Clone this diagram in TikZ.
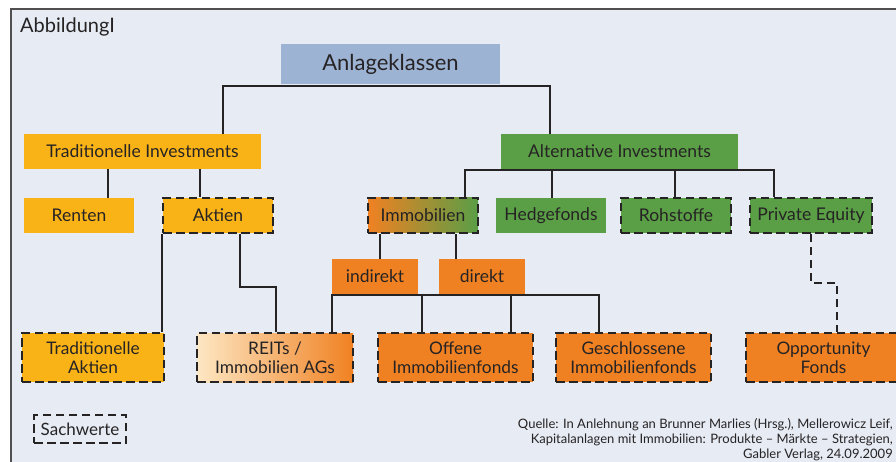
\documentclass[tikz,border=0pt]{standalone}
\usepackage{fontspec}
\setmainfont{Lato}
\usetikzlibrary{calc}
\definecolor{bgc}{HTML}{E7EBF4}
\definecolor{ink}{HTML}{262324}
\definecolor{blueb}{HTML}{9DB3D4}
\definecolor{yel}{HTML}{F9B317}
\definecolor{grn}{HTML}{5A9E46}
\definecolor{org}{HTML}{F08122}
\definecolor{lightorg}{HTML}{FDE7C3}
\tikzset{
  box/.style={inner sep=0pt, align=center, text=ink, font=\fontsize{17.5}{19}\selectfont},
  small/.style={box, minimum width=110pt, minimum height=35pt},
  big/.style={box, minimum width=155pt, minimum height=49pt, font=\fontsize{17.3}{19}\selectfont},
  dbord/.style={draw=ink, line width=2.6pt, dash pattern=on 8.5pt off 4.5pt},
  conn/.style={draw=ink, line width=2.1pt},
  dconn/.style={draw=ink, line width=2.4pt, dash pattern=on 8pt off 5pt},
}
\begin{document}
\begin{tikzpicture}[x=1pt,y=-1pt]
\useasboundingbox (0,0) rectangle (896,462);
\fill[white] (0,0) rectangle (896,462);
\draw[fill=bgc, draw=ink!80, line width=1.6pt] (11,9) rectangle (905,472);
\node[anchor=west, inner sep=0pt, text=ink, font=\fontsize{20}{22}\selectfont] (title) at (20,27) {AbbildungI};

% top
\node[box, fill=blueb, minimum width=219pt, minimum height=40pt, font=\fontsize{22}{26}\selectfont] (anl) at (390.5,64) {\raisebox{-2pt}{Anlageklassen}};
\node[box, fill=yel, minimum width=237pt, minimum height=35pt] (trad) at (142.5,151.5) {Traditionelle Investments};
\node[box, fill=grn, minimum width=237pt, minimum height=35pt] (alt) at (619.5,151.5) {Alternative Investments};

% second row
\node[small, fill=yel] (renten) at (79,215.5) {Renten};
\node[small, fill=yel, dbord] (aktien) at (218,215.5) {Aktien};
\node[small, left color=org, right color=grn, dbord] (immo) at (423,215.5) {Immobilien};
\node[small, fill=grn] (hedge) at (551,215.5) {Hedgefonds};
\node[small, fill=grn, dbord] (roh) at (676,215.5) {Rohstoffe};
\node[small, fill=grn, dbord, minimum width=122pt] (pe) at (811,215.5) {Private Equity};

% third row
\node[box, fill=org, minimum width=86pt, minimum height=35pt] (indirekt) at (375,276.5) {indirekt};
\node[box, fill=org, minimum width=86pt, minimum height=35pt] (direkt) at (482,276.5) {direkt};

% bottom row
\node[big, fill=yel, dbord, minimum width=142pt] (tradakt) at (93,357.5) {Traditionelle\\Aktien};
\node[big, left color=lightorg, right color=org, dbord, minimum width=156pt] (reits) at (275,357.5) {REITs /\\Immobilien AGs};
\node[big, fill=org, dbord] (offene) at (455.5,357.5) {Offene\\Immobilienfonds};
\node[big, fill=org, dbord] (gesch) at (633.5,357.5) {Geschlossene\\Immobilienfonds};
\node[big, fill=org, dbord] (opp) at (823.5,357.5) {Opportunity\\Fonds};

% legend and source
\node[box, dbord, minimum width=92pt, minimum height=28pt, font=\fontsize{17}{18}\selectfont] (legend) at (80,429) {Sachwerte};
\node[anchor=north east, align=right, inner sep=0pt, text=ink, font=\fontsize{13}{15}\selectfont] (src) at (893,418)
 {Quelle: In Anlehnung an Brunner Marlies (Hrsg.), Mellerowicz Leif,\\
  Kapitalanlagen mit Immobilien: Produkte -- Märkte -- Strategien,\\
  Gabler Verlag, 24.09.2009};

% connectors
\coordinate (busA) at (0,86);
\coordinate (busB) at (0,170);
\coordinate (busC) at (0,295);
\draw[conn] (trad.north -| 223,0) -- (busA -| 223,0) -- (busA -| 550,0) -- (alt.north -| 550,0);
\draw[conn] (trad.south -| 108,0) -- (renten.north -| 108,0);
\draw[conn] (trad.south -| 200,0) -- (aktien.north -| 200,0);
\draw[conn] (immo.north -| 465,0) -- (busB -| 465,0) -- (busB -| 774,0) -- (pe.north -| 774,0);
\draw[conn] (hedge.north -| 552,0) -- (busB -| 552,0);
\draw[conn] (roh.north -| 675,0) -- (busB -| 675,0);
\draw[conn] (immo.south -| 380,0) -- (indirekt.north -| 380,0);
\draw[conn] (immo.south -| 456,0) -- (direkt.north -| 456,0);
\draw[conn] (reits.north -| 332,0) -- (busC -| 332,0) -- (busC -| 599,0) -- (gesch.north -| 599,0);
\draw[conn] (offene.north -| 422,0) -- (busC -| 422,0);
\draw[conn] (offene.north -| 511,0) -- (busC -| 511,0);
\draw[conn] (aktien.south west) -- (aktien.south west |- tradakt.north);
\draw[conn] (aktien.south -| 240,0) -- (240,287) -- (276,287) -- (reits.north -| 276,0);
\draw[dconn] (pe.south -| 811,0) -- (811,283) -- (837,283) -- (opp.north -| 837,0);
\end{tikzpicture}
\end{document}
